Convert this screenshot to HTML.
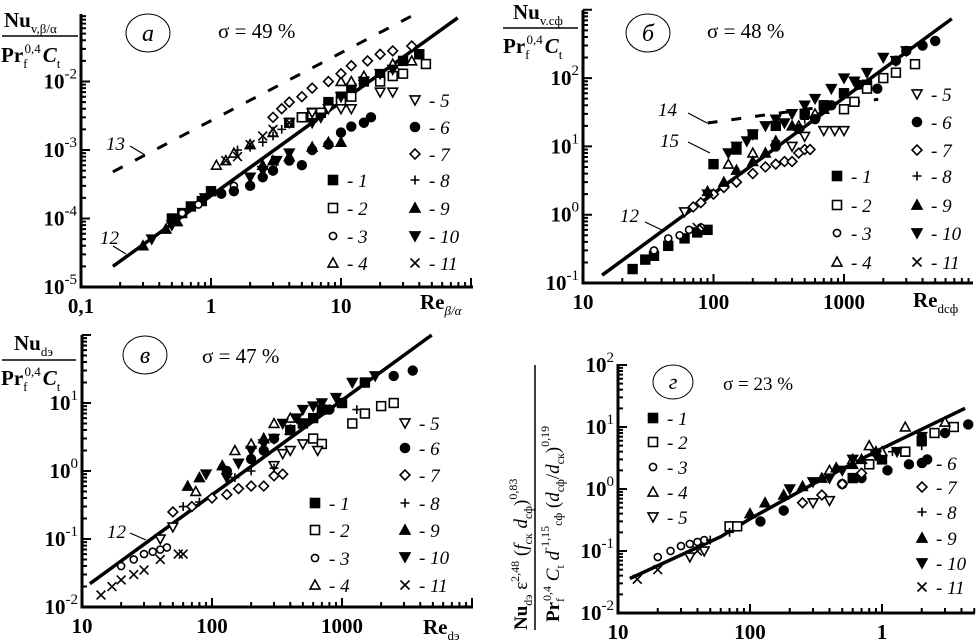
<!DOCTYPE html>
<html><head><meta charset="utf-8"><style>
html,body{margin:0;padding:0;background:#fff}
svg{display:block}
text{font-family:"Liberation Serif",serif;fill:#000}
.tk{font-size:21px;font-weight:bold}
.lg{font-size:19px;font-style:italic}
.sg{font-size:21px}
</style></head><body>
<svg id="fig" width="977" height="642" viewBox="0 0 977 642" xmlns="http://www.w3.org/2000/svg">
<g>
<text x="4" y="27" font-size="21" font-weight="bold">Nu<tspan font-size="13" font-weight="normal" dy="6">v,β/α</tspan></text>
<line x1="2" y1="36" x2="78" y2="36" stroke="#000" stroke-width="1.5"/>
<text x="1" y="62" font-size="21" font-weight="bold">Pr<tspan font-size="13" font-weight="normal" dy="6">f</tspan><tspan font-size="13" font-weight="normal" dy="-15" dx="-3">0,4</tspan><tspan font-style="italic" dy="9" dx="2">C</tspan><tspan font-size="13" font-weight="normal" dy="6">t</tspan></text>
</g>
<g>
<text x="513" y="19" font-size="21" font-weight="bold">Nu<tspan font-size="13" font-weight="normal" dy="6">v.cф</tspan></text>
<line x1="503" y1="28" x2="578" y2="28" stroke="#000" stroke-width="1.5"/>
<text x="503" y="53" font-size="21" font-weight="bold">Pr<tspan font-size="13" font-weight="normal" dy="6">f</tspan><tspan font-size="13" font-weight="normal" dy="-15" dx="-3">0,4</tspan><tspan font-style="italic" dy="9" dx="2">C</tspan><tspan font-size="13" font-weight="normal" dy="6">t</tspan></text>
</g>
<g>
<text x="14" y="350" font-size="21" font-weight="bold">Nu<tspan font-size="13" font-weight="normal" dy="6">dэ</tspan></text>
<line x1="2" y1="360" x2="76" y2="360" stroke="#000" stroke-width="1.5"/>
<text x="1" y="385" font-size="21" font-weight="bold">Pr<tspan font-size="13" font-weight="normal" dy="6">f</tspan><tspan font-size="13" font-weight="normal" dy="-15" dx="-3">0,4</tspan><tspan font-style="italic" dy="9" dx="2">C</tspan><tspan font-size="13" font-weight="normal" dy="6">t</tspan></text>
</g>
<g transform="translate(535,480) rotate(-90)">
<text x="-150" y="-8" font-size="19" font-weight="bold">Nu<tspan font-size="12" font-weight="normal" dy="5">dэ</tspan><tspan font-weight="normal" dy="-5"> ε</tspan><tspan font-size="12" font-weight="normal" dy="-8">2,48</tspan><tspan font-weight="normal" dy="8"> (</tspan><tspan font-style="italic" font-weight="normal">f</tspan><tspan font-size="12" font-weight="normal" dy="5">ск</tspan><tspan font-style="italic" font-weight="normal" dy="-5"> d</tspan><tspan font-size="12" font-weight="normal" dy="5">cф</tspan><tspan font-weight="normal" dy="-5">)</tspan><tspan font-size="12" font-weight="normal" dy="-10">0,83</tspan></text>
<line x1="-150" y1="0" x2="115" y2="0" stroke="#000" stroke-width="1.5"/>
<text x="-142" y="24" font-size="19" font-weight="bold">Pr<tspan font-size="12" font-weight="normal" dy="5">f</tspan><tspan font-size="12" font-weight="normal" dy="-13" dx="-3">0,4</tspan><tspan font-style="italic" font-weight="normal" dy="8"> C</tspan><tspan font-size="12" font-weight="normal" dy="5">t</tspan><tspan font-style="italic" font-weight="normal" dy="-5"> d</tspan><tspan font-size="12" font-weight="normal" dy="-10">-1,15</tspan><tspan font-size="12" font-weight="normal" dy="13">cф</tspan><tspan font-weight="normal" dy="-3"> (</tspan><tspan font-style="italic" font-weight="normal">d</tspan><tspan font-size="12" font-weight="normal" dy="5">cф</tspan><tspan font-weight="normal" dy="-5">/</tspan><tspan font-style="italic" font-weight="normal">d</tspan><tspan font-size="12" font-weight="normal" dy="5">ск</tspan><tspan font-weight="normal" dy="-5">)</tspan><tspan font-size="12" font-weight="normal" dy="-10">0,19</tspan></text>
</g>
<ellipse cx="148" cy="33" rx="22" ry="19" fill="none" stroke="#000" stroke-width="1"/>
<text x="148" y="41" font-size="24" font-style="italic" text-anchor="middle">а</text>
<text x="218" y="38" class="sg">σ = 49 %</text>
<ellipse cx="648" cy="33" rx="22" ry="19" fill="none" stroke="#000" stroke-width="1"/>
<text x="648" y="41" font-size="24" font-style="italic" text-anchor="middle">б</text>
<text x="707" y="38" class="sg">σ = 48 %</text>
<ellipse cx="145" cy="355" rx="22" ry="19" fill="none" stroke="#000" stroke-width="1"/>
<text x="145" y="363" font-size="24" font-style="italic" text-anchor="middle">в</text>
<text x="202" y="363" class="sg">σ = 47 %</text>
<ellipse cx="673" cy="382" rx="20" ry="17" fill="none" stroke="#000" stroke-width="1"/>
<text x="673" y="389" font-size="22" font-style="italic" text-anchor="middle">г</text>
<text x="723" y="390" font-size="19">σ = 23 %</text>
<text x="420" y="309" font-size="21" font-weight="bold">Re<tspan font-size="13" font-weight="normal" font-style="italic" dy="6">β/α</tspan></text>
<text x="913" y="307" font-size="21" font-weight="bold">Re<tspan font-size="13" font-weight="normal" dy="6">dcф</tspan></text>
<text x="423" y="634" font-size="21" font-weight="bold">Re<tspan font-size="13" font-weight="normal" dy="6">dэ</tspan></text>
<g id="plots"></g>
</svg>
<script>
// ---------- data ----------
const aLine12 = [[0.176,2.0e-5],[79,0.085]];
const aLine13 = [[0.176,4.8e-4],[36,0.093]];
const aS1 = [[0.5,1e-4],[0.6,1.2e-4],[0.7,1.5e-4],[0.85,1.8e-4],[1,2.5e-4],[4,2.5e-3],[5,3e-3],[6,3.5e-3],[8,5e-3],[10,6e-3],[12,8e-3],[15,1e-2],[20,1.2e-2],[30,2e-2],[40,2.5e-2]];
const aS2 = [[5,3e-3],[6,3e-3],[7,3.5e-3],[10,5e-3],[12,6e-3],[20,1e-2],[25,1.2e-2],[30,1.3e-2],[45,1.8e-2]];
const aS3 = [[0.6,1.2e-4],[0.8,1.6e-4],[1.5,3e-4]];
const aS4 = [[1.1,6e-4],[1.3,7e-4],[1.5,9e-4],[2,1.2e-3],[3,1.8e-3],[10,1e-2],[12,1e-2],[15,1.2e-2],[25,1.8e-2],[35,2e-2]];
const aS5 = [[4,2.5e-3],[6,3.5e-3],[8,4e-3],[10,4e-3],[12,4e-3],[20,7e-3],[25,7e-3]];
const aS6 = [[1.2,2.3e-4],[1.5,2.5e-4],[2,3e-4],[2.5,4e-4],[3,5e-4],[4,7e-4],[5,6e-4],[6,1e-3],[8,1.2e-3],[10,1.8e-3],[12,2.2e-3],[15,2.5e-3],[17,3e-3],[30,2e-2],[40,2.5e-2]];
const aS7 = [[3,3e-3],[3.5,4e-3],[4,5e-3],[5,6e-3],[6,8e-3],[8,1e-2],[10,1.3e-2],[12,1.7e-2],[16,2e-2],[20,2.5e-2],[25,2.8e-2],[35,3.3e-2]];
const aS8 = [[1.6,1e-3],[2,1.1e-3],[2.5,1.3e-3],[3,1.6e-3],[3.5,2e-3]];
const aS9 = [[0.3,4e-5],[0.45,7e-5],[0.55,9e-5],[2.5,6e-4],[3,7e-4],[4,8e-4],[6,1.1e-3],[8,1.3e-3],[10,1.3e-3]];
const aS10 = [[0.35,5e-5],[0.5,8e-5],[0.9,2e-4],[2,4e-4],[2.5,5e-4],[3.2,7e-4],[4,9e-4],[6,2.5e-3],[7,3e-3],[10,6e-3],[15,1e-2],[20,1.3e-2],[25,1.5e-2]];
const aS11 = [[1.3,7e-4],[1.6,8e-4],[2,1.2e-3],[2.5,1.6e-3],[3,2e-3],[4,2.5e-3]];

const bLine12 = [[14,0.13],[6700,740]];
const bLine14 = [[90,22],[1830,49]];
const bS1 = [[24,0.16],[30,0.22],[35,0.25],[45,0.35],[60,0.45],[75,0.55],[90,0.6],[100,5.5],[150,9],[200,15],[300,20],[500,30],[700,40],[1000,60],[1500,80]];
const bS2 = [[1000,35],[1200,45],[1500,70],[2000,100],[2500,120],[3500,160]];
const bS3 = [[35,0.3],[45,0.45],[55,0.5],[65,0.6],[80,0.65]];
const bS4 = [[130,5.5],[200,8],[300,12],[450,20],[600,30]];
const bS5 = [[60,1.1],[400,10],[500,14],[700,17],[850,17],[1000,17]];
const bS6 = [[300,10],[450,18],[600,25],[800,40],[1000,60],[1300,80],[1800,70],[2500,180],[3000,250],[4000,300],[5000,350]];
const bS7 = [[70,1.3],[80,1.5],[100,2],[120,2.5],[150,3],[200,4],[250,5],[300,5.5],[350,6],[400,6],[450,8],[500,9],[550,9]];
const bS8 = [[300,12],[500,25],[800,40]];
const bS9 = [[90,2.2],[120,3],[150,4.5],[200,6],[250,8],[400,20],[700,35]];
const bS10 = [[90,2],[130,8],[150,10],[180,12],[200,15],[250,20],[300,25],[350,22],[400,30],[500,40],[600,50],[800,70],[1000,100],[1200,90],[1500,120],[2000,200],[2500,180],[3000,250]];
const bS11 = [[24,0.16],[75,0.65],[85,0.6]];

const cLine12 = [[11.5,0.022],[4900,100]];
const cS1 = [[400,4],[500,5],[600,6],[700,8],[1000,10],[1500,20]];
const cS2 = [[600,3],[700,2.5],[1200,5],[1500,7],[2000,9],[2500,10]];
const cS3 = [[20,0.04],[25,0.05],[30,0.06],[35,0.065],[40,0.07],[45,0.075]];
const cS4 = [[75,0.5],[150,2],[200,2.5],[250,3],[300,5],[400,6]];
const cS5 = [[40,0.1],[50,0.15],[300,1.2],[350,1.8],[400,2],[500,2.5],[650,2]];
const cS6 = [[130,1],[200,1.5],[250,2],[300,3],[400,4],[500,5],[800,8],[1000,10],[1500,20],[2500,25],[3500,30]];
const cS7 = [[50,0.25],[70,0.3],[100,0.4],[130,0.45],[160,0.55],[200,0.6],[250,0.6],[300,0.85],[350,0.9]];
const cS8 = [[60,0.3],[80,0.35],[150,0.8],[200,1],[300,1.1],[1300,8]];
const cS9 = [[65,0.6],[80,0.8],[120,1.2],[250,3],[400,4]];
const cS10 = [[90,0.9],[130,0.8],[160,1.3],[200,2],[250,2.5],[300,3],[350,5],[450,6],[500,8],[600,9],[700,10],[900,12],[1200,20],[1800,25]];
const cS11 = [[14,0.015],[17,0.02],[20,0.025],[25,0.03],[30,0.035],[40,0.05],[55,0.06],[60,0.06]];

const dLine = [[12.3,0.036],[60,0.17],[100,0.33],[300,1.2],[1000,4.5],[4260,20]];
const dS1 = [[600,1.5],[800,2.5],[1000,3],[1500,4],[2000,6]];
const dS2 = [[70,0.25],[80,0.25],[800,2.5],[1500,4],[2500,8],[3500,10]];
const dS3 = [[20,0.08],[25,0.1],[30,0.12],[35,0.13],[40,0.14],[45,0.15]];
const dS4 = [[400,2],[600,3],[800,5],[1000,4],[1500,10],[3000,12]];
const dS5 = [[35,0.08],[45,0.1],[300,0.6],[400,0.65]];
const dS6 = [[120,0.3],[180,0.45],[500,1.2],[700,1.5],[1100,2],[1600,2.5],[2200,3],[3000,8],[4500,11]];
const dS7 = [[250,0.6],[350,0.8],[500,1.2],[700,1.8]];
const dS8 = [[50,0.15],[70,0.2],[1200,4],[2000,5]];
const dS9 = [[100,0.4],[130,0.6],[180,0.8],[250,1.1],[350,1.5],[450,2.2],[600,2.5],[700,3],[900,4]];
const dS10 = [[200,1],[300,1.3],[400,1.5],[500,2],[600,3],[900,3.5],[1300,4],[2000,7]];
const dS11 = [[14,0.035],[20,0.05],[40,0.1]];

const aXTicks = ["0,1","1","10"]; const aYExp = ["-5","-4","-3","-2"];
const bXTicks = ["10","100","1000"]; const bYExp = ["-1","0","1","2"];
const cXTicks = ["10","100","1000"]; const cYExp = ["-2","-1","0","1"];
const dXTicks = ["10","100","1"]; const dYExp = ["-2","-1","0","1","2"];

// ---------- drawing ----------
const NS="http://www.w3.org/2000/svg";
const root=document.getElementById('plots');
function mk(tag,parent){const e=document.createElementNS(NS,tag);parent.appendChild(e);return e;}
const shapes=[null,'sqF','sqO','ciO','tuO','tdO','ciF','diO','plus','tuF','tdF','cross'];
function marker(g,type,x,y,s){
  let e;
  if(type==='sqF'||type==='sqO'){e=mk('rect',g);e.setAttribute('x',x-s);e.setAttribute('y',y-s);e.setAttribute('width',2*s);e.setAttribute('height',2*s);}
  else if(type==='ciF'||type==='ciO'){e=mk('circle',g);e.setAttribute('cx',x);e.setAttribute('cy',y);e.setAttribute('r',type==='ciO'?s*0.8:s);}
  else if(type==='tuF'||type==='tuO'){e=mk('polygon',g);e.setAttribute('points',`${x-s*1.1},${y+s*0.9} ${x+s*1.1},${y+s*0.9} ${x},${y-s*1.1}`);}
  else if(type==='tdF'||type==='tdO'){e=mk('polygon',g);e.setAttribute('points',`${x-s*1.1},${y-s*0.9} ${x+s*1.1},${y-s*0.9} ${x},${y+s*1.1}`);}
  else if(type==='diO'){e=mk('polygon',g);e.setAttribute('points',`${x},${y-s*1.1} ${x+s*1.1},${y} ${x},${y+s*1.1} ${x-s*1.1},${y}`);}
  else if(type==='plus'){e=mk('path',g);e.setAttribute('d',`M${x-s} ${y}H${x+s}M${x} ${y-s}V${y+s}`);}
  else {e=mk('path',g);e.setAttribute('d',`M${x-s} ${y-s}L${x+s} ${y+s}M${x-s} ${y+s}L${x+s} ${y-s}`);}
  const filled=type.endsWith('F');
  e.setAttribute('fill',filled?'#000':(type==='plus'||type==='cross'?'none':'#fff'));
  e.setAttribute('stroke','#000');e.setAttribute('stroke-width',1.6);
  return e;
}
function panel(P){
  const g=mk('g',root);
  
  
  const X=v=>P.xA+(Math.log10(v)-P.lx0)*P.kx;
  const Y=v=>P.yA-(Math.log10(v)-P.ly0)*P.ky;
  const ax=mk('path',g);
  
  
  ax.setAttribute('d',`M${P.xA} ${P.top}V${P.yA}H${P.right}`);
  ax.setAttribute('stroke','#000');ax.setAttribute('stroke-width',3);ax.setAttribute('fill','none');
  let td='';
  for(let d=P.lx0;;d++){for(let m=1;m<10;m++){const px=P.xA+(d-P.lx0+Math.log10(m))*P.kx;if(px>P.right+0.5)break;if(px<P.xA+1&&m===1)continue;td+=`M${px} ${P.yA}V${P.yA-(m===1?9:5)}`;} if(P.xA+(d+1-P.lx0)*P.kx>P.right+1)break;}
  for(let d=P.ly0;;d++){for(let m=1;m<10;m++){const py=P.yA-(d-P.ly0+Math.log10(m))*P.ky;if(py<P.top-0.5)break;if(m===1&&d===P.ly0)continue;td+=`M${P.xA} ${py}H${P.xA+(m===1?9:5)}`;} if(P.yA-(d+1-P.ly0)*P.ky<P.top-1)break;}
  const tk=mk('path',g);
  
  
  tk.setAttribute('d',td);tk.setAttribute('stroke','#000');tk.setAttribute('stroke-width',2);
  P.xt.forEach((s,i)=>{const t=mk('text',g);
    
    
    t.setAttribute('class','tk');t.setAttribute('x',P.xA+i*P.kx);t.setAttribute('y',P.yA+26);t.setAttribute('text-anchor','middle');t.textContent=s;});
  P.ye.forEach((s,i)=>{const t=mk('text',g);
    
    
    t.setAttribute('class','tk');t.setAttribute('x',P.xA-4);t.setAttribute('y',P.yA-i*P.ky+7);t.setAttribute('text-anchor','end');
    t.innerHTML='10<tspan font-size="15" font-weight="normal" dy="-10">'+s+'</tspan>';});
  P.lines.forEach(L=>{const l=mk('polyline',g);
    
    
    l.setAttribute('points',L.pts.map(p=>X(p[0])+','+Y(p[1])).join(' '));
    l.setAttribute('fill','none');l.setAttribute('stroke','#000');l.setAttribute('stroke-width',L.dash?3:3.5);
    if(L.dash)l.setAttribute('stroke-dasharray',L.dash);});
  P.series.forEach((S,i)=>{if(!S)return;const sg=mk('g',g);
    
    
    S.forEach(p=>{const m=marker(sg,shapes[i+1],X(p[0]),Y(p[1]),4.4);
      
      });});
  P.legend.forEach(Lg=>{const lg=mk('g',g);
    
    
    marker(lg,shapes[Lg[0]],Lg[1],Lg[2],4.5);
    const t=mk('text',lg);t.setAttribute('class','lg');t.setAttribute('x',Lg[1]+14);t.setAttribute('y',Lg[2]+7);t.textContent='- '+Lg[0];});
  P.notes.forEach(n=>{const t=mk('text',g);
    
    
    t.setAttribute('class','lg');t.setAttribute('x',n[1]);t.setAttribute('y',n[2]);t.textContent=n[0];
    const l=mk('path',g);l.setAttribute('d',n[3]);l.setAttribute('stroke','#000');l.setAttribute('fill','none');l.setAttribute('stroke-width',1.2);});
}
panel({name:'panel-a-chart',id:'panel-a',xA:81,lx0:-1,kx:130,right:473,yA:287,ly0:-5,ky:68.5,top:14,xt:aXTicks,ye:aYExp,
  lines:[{name:'fit-line-12',pts:aLine12},{name:'dashed-line-13',pts:aLine13,dash:'11,14'}],
  series:[aS1,aS2,aS3,aS4,aS5,aS6,aS7,aS8,aS9,aS10,aS11],
  legend:[[1,333,180],[2,333,208],[3,333,236],[4,333,263],[5,415,100],[6,415,127],[7,415,154],[8,415,180],[9,415,208],[10,415,236],[11,415,263]],
  notes:[['13',106,150,'M130 146 L145 155'],['12',100,244,'M113 246 L126 254']]});
panel({name:'panel-b-chart',id:'panel-b',xA:583,lx0:1,kx:130.5,right:973,yA:283,ly0:-1,ky:68.3,top:10,xt:bXTicks,ye:bYExp,
  lines:[{name:'fit-line-12',pts:bLine12},{name:'dashed-line-14',pts:bLine14,dash:'10,14'}],
  series:[bS1,bS2,bS3,bS4,bS5,bS6,bS7,bS8,bS9,bS10,bS11],
  legend:[[1,837,176],[2,837,205],[3,837,233],[4,837,262],[5,917,94],[6,917,122],[7,917,150],[8,917,176],[9,917,205],[10,917,233],[11,917,262]],
  notes:[['14',658,116,'M688 113 L707 123'],['15',660,147,'M688 142 L710 153'],['12',620,222,'M645 222 L662 230']]});
panel({name:'panel-c-chart',id:'panel-c',xA:82,lx0:1,kx:130,right:473,yA:607,ly0:-2,ky:68,top:335,xt:cXTicks,ye:cYExp,
  lines:[{name:'fit-line-12',pts:cLine12}],
  series:[cS1,cS2,cS3,cS4,cS5,cS6,cS7,cS8,cS9,cS10,cS11],
  legend:[[1,315,503],[2,315,530],[3,315,558],[4,315,585],[5,405,423],[6,405,448],[7,405,475],[8,405,503],[9,405,530],[10,405,557],[11,405,585]],
  notes:[['12',107,538,'M130 533 L146 540']]});
panel({name:'panel-d-chart',id:'panel-d',xA:618,lx0:1,kx:132,right:975,yA:613,ly0:-2,ky:62,top:364,xt:dXTicks,ye:dYExp,
  lines:[{name:'fit-line',pts:dLine}],
  series:[dS1,dS2,dS3,dS4,dS5,dS6,dS7,dS8,dS9,dS10,dS11],
  legend:[[1,653,418],[2,653,442],[3,653,467],[4,653,492],[5,653,517],[6,922,463],[7,922,487],[8,922,512],[9,922,538],[10,922,563],[11,922,587]],
  notes:[]});
</script>
</body></html>
